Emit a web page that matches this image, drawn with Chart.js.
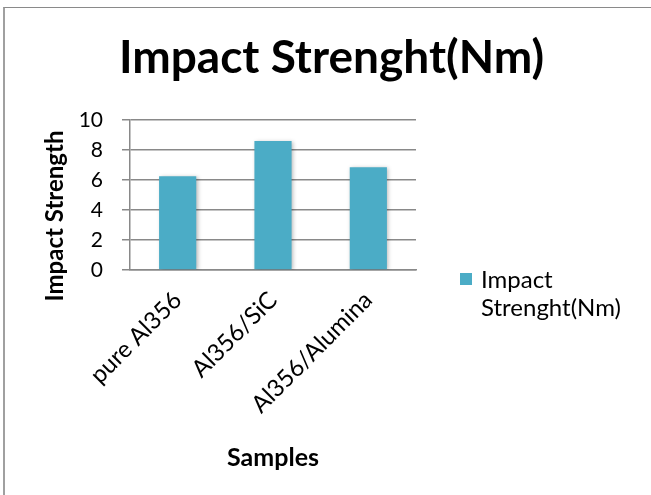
<!DOCTYPE html>
<html>
<head>
<meta charset="utf-8">
<script src="https://cdn.jsdelivr.net/npm/chart.js@4.4.1/dist/chart.umd.min.js"></script>
<style>
  html, body { margin: 0; padding: 0; background: #fff; }
  #wrap { position: relative; width: 651px; height: 495px; overflow: hidden; }
  #frame { position: absolute; left: 3px; top: 7px; right: -10px; bottom: -10px;
           border-top: 1px solid #8a8a8a; border-left: 2px solid #a0a0a0; pointer-events: none; }
  canvas { position: absolute; left: 0; top: 0; }
</style>
</head>
<body>
<div id="wrap">
  <canvas id="chart" width="651" height="495"></canvas>
  <div id="frame"></div>
</div>
<script>
// Impact strength of the three sample materials
const categories = ['pure Al356', 'Al356/SiC', 'Al356/Alumina'];
const impactStrength = [6.25, 8.6, 6.85];
const seriesName = 'Impact Strenght(Nm)';
const yTicks = [0, 2, 4, 6, 8, 10];
const yAxisTitle = 'Impact Strength';

const FONT = 'Lato, "Open Sans", sans-serif';
const BAR_COLOR = '#4BACC6';
const GRID_COLOR = '#898989';

// Right-hand legend drawn as a layout box so it reserves its own column
function makeLegendBox(chart) {
  return {
    position: 'right', weight: 0, fullSize: false, options: {},
    width: 0, height: 0, left: 0, top: 0, right: 0, bottom: 0,
    isHorizontal() { return false; },
    update(maxWidth, maxHeight) { this.width = 235; this.height = maxHeight; },
    draw() {
      const ctx = chart.ctx;
      const ds = chart.data.datasets[0];
      ctx.save();
      ctx.font = '24px ' + FONT;
      // wrap the series name into lines no wider than the text column
      const words = ds.label.split(' ');
      const lines = [];
      let line = '';
      for (const w of words) {
        const test = line ? line + ' ' + w : w;
        if (line && ctx.measureText(test).width > 160) { lines.push(line); line = w; }
        else line = test;
      }
      if (line) lines.push(line);
      const x0 = this.left + 44;
      const y0 = 279;
      ctx.fillStyle = ds.backgroundColor;
      ctx.fillRect(x0, y0 - 6, 12, 12);
      ctx.fillStyle = '#000';
      ctx.textBaseline = 'middle';
      ctx.textAlign = 'left';
      lines.forEach((t, i) => ctx.fillText(t, x0 + 21, y0 + 1 + i * 28.5));
      ctx.restore();
    }
  };
}

const legendPlugin = {
  id: 'sideLegend',
  beforeInit(chart) {
    Chart.layouts.addBox(chart, makeLegendBox(chart));
  }
};

// vertical value-axis title, sitting a little below the plot's middle
const yTitlePlugin = {
  id: 'yTitle',
  afterDraw(chart) {
    const ctx = chart.ctx;
    const area = chart.chartArea;
    ctx.save();
    ctx.translate(55, (area.top + area.bottom) / 2 + 21);
    ctx.rotate(-Math.PI / 2);
    ctx.font = 'bold 24px ' + FONT;
    ctx.fillStyle = '#000';
    ctx.textAlign = 'center';
    ctx.textBaseline = 'middle';
    ctx.fillText(yAxisTitle, 0, 0);
    ctx.restore();
  }
};

// soft drop shadow under the columns
const barShadow = {
  id: 'barShadow',
  beforeDatasetsDraw(chart) {
    const ctx = chart.ctx;
    ctx.save();
    ctx.shadowColor = 'rgba(0,0,0,0.28)';
    ctx.shadowBlur = 4;
    ctx.shadowOffsetX = 1.5;
    ctx.shadowOffsetY = 1;
  },
  afterDatasetsDraw(chart) { chart.ctx.restore(); }
};

new Chart(document.getElementById('chart'), {
  type: 'bar',
  data: {
    labels: categories,
    datasets: [{
      label: seriesName,
      data: impactStrength,
      backgroundColor: BAR_COLOR,
      borderWidth: 0,
      barPercentage: 1,
      categoryPercentage: 0.39
    }]
  },
  plugins: [legendPlugin, barShadow, yTitlePlugin],
  options: {
    responsive: false,
    animation: false,
    layout: { padding: { left: 12, top: 0, right: 0, bottom: 0 } },
    plugins: {
      legend: { display: false },
      tooltip: { enabled: false },
      title: {
        display: true,
        text: 'Impact Strenght(Nm)',
        color: '#000',
        font: { family: FONT, size: 46, weight: 'bold', lineHeight: 1.2 },
        padding: { top: 30.4, bottom: 34.4 }
      }
    },
    scales: {
      x: {
        grid: { display: false, drawTicks: false },
        border: { display: true, color: GRID_COLOR, width: 1.5 },
        ticks: {
          color: '#000', font: { family: FONT, size: 24 },
          minRotation: 45, maxRotation: 45, padding: 16, autoSkip: false
        },
        title: {
          display: true, text: 'Samples', color: '#000',
          font: { family: FONT, size: 25, weight: 'bold', lineHeight: 1.2 },
          padding: { top: 0, bottom: 22 }
        },
        afterFit(scale) { scale.height = 225; }
      },
      y: {
        min: 0, max: 10,
        afterBuildTicks(scale) { scale.ticks = yTicks.map(v => ({ value: v })); },
        grid: { color: GRID_COLOR, lineWidth: 1.5, tickLength: 8, drawTicks: true },
        border: { display: true, color: GRID_COLOR, width: 1.5 },
        ticks: { color: '#000', font: { family: FONT, size: 21 }, padding: 19 },
        title: { display: false },
        afterFit(scale) { scale.width = 118; }
      }
    }
  }
});
</script>
</body>
</html>
